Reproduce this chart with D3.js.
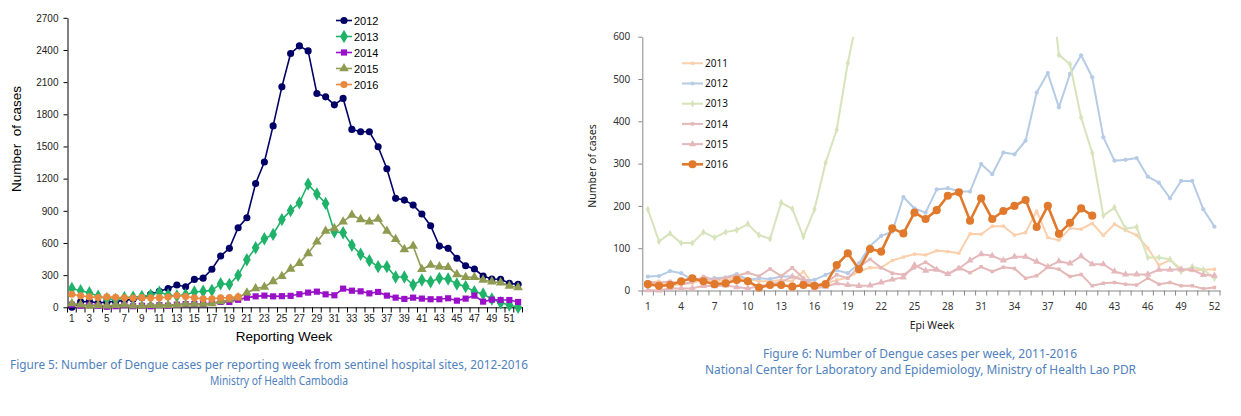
<!DOCTYPE html>
<html>
<head>
<meta charset="utf-8">
<script src="https://cdn.jsdelivr.net/npm/d3@7/dist/d3.min.js"></script>
<style>
  body { margin: 0; background: #fff; }
  svg { display: block; }
</style>
</head>
<body>
<svg id="chart" width="1241" height="416"></svg>
<script>
// ---- Figure 5: Cambodia, cases per reporting week ----
const khWeeks = d3.range(1, 53);
const khYears = ["2012", "2013", "2014", "2015", "2016"];
const kh2012 = [0,50,55,40,50,55,65,75,90,120,150,175,208,192,260,272,355,478,550,742,835,1155,1355,1692,2056,2367,2438,2391,1994,1963,1888,1948,1659,1637,1637,1497,1292,1016,1000,953,870,761,571,550,457,388,357,292,264,261,224,214];
const kh2013 = [175,155,136,103,80,72,90,95,100,112,140,115,105,118,143,150,158,220,214,298,444,556,640,680,818,902,974,1149,1056,969,705,696,578,494,435,379,379,283,283,208,255,239,270,264,217,193,146,124,78,43,22,0];
const kh2014 = [25,15,20,15,5,10,20,10,15,10,20,15,25,30,30,30,40,50,50,70,90,102,109,102,104,107,122,137,146,121,112,174,155,149,130,143,109,90,78,90,81,75,75,84,62,81,109,53,71,68,68,50];
const kh2015 = [35,25,15,20,15,20,25,15,15,20,20,20,25,30,30,30,35,55,70,90,135,175,190,242,290,358,412,503,612,711,736,798,860,820,798,823,711,634,540,571,354,394,379,373,307,280,280,255,239,230,199,186];
const kh2016 = [122,107,97,91,97,94,88,86,90,88,90,95,110,100,88,80,80,88,90,97];
const khTicks = [0,300,600,900,1200,1500,1800,2100,2400,2700];

// ---- Figure 6: Lao PDR, cases per epi week ----
const laWeeks = d3.range(1, 53);
const laYears = ["2011", "2012", "2013", "2014", "2015", "2016"];
const la2011 = [18,22,12,15,18,25,22,25,30,28,22,22,25,22,45,10,15,25,30,45,54,54,71,79,86,84,94,92,88,134,133,152,152,131,137,188,125,119,147,145,159,130,157,142,131,100,60,72,50,47,49,50];
const la2012 = [33,34,46,41,25,26,29,31,39,25,29,27,33,33,25,25,37,48,41,64,105,129,139,221,194,184,239,242,234,234,299,275,326,322,354,468,514,433,512,556,504,362,307,309,313,269,255,218,259,259,192,151];
const la2013 = [192,116,135,112,112,138,125,138,143,157,131,122,208,193,127,192,302,380,538,665,760,850,920,980,1040,1100,1150,1120,1080,1050,1000,1060,1100,1020,960,900,785,557,535,409,325,177,196,146,150,78,78,74,45,56,49,29];
const la2014 = [20,18,22,15,20,33,25,30,35,42,34,51,34,54,29,12,17,37,29,56,74,54,41,37,54,67,50,39,54,42,56,45,55,52,29,35,55,50,33,38,11,17,19,15,13,29,15,19,11,11,4,7];
const la2015 = [1,0,5,5,5,11,10,12,8,5,10,15,20,33,25,5,9,17,13,11,12,19,26,31,60,47,49,39,52,71,86,82,71,80,80,68,56,69,64,81,62,62,45,38,38,38,49,49,50,49,37,35];
const la2016 = [15,11,13,22,29,22,15,17,25,22,7,13,13,9,13,11,15,60,88,50,98,92,147,135,184,169,190,224,232,165,218,169,188,200,214,150,200,134,160,194,177];
const laTicks = [0,100,200,300,400,500,600];
const laLabelWeeks = [1,4,7,10,13,16,19,22,25,28,31,34,37,40,43,46,49,52];

const svg = d3.select("#chart");

// ================= left chart =================
const khSeries = [
  {name: "2012", values: kh2012, color: "#000066", sym: d3.symbolCircle, size: 40},
  {name: "2013", values: kh2013, color: "#1fb36a", sym: d3.symbolDiamond, size: 52},
  {name: "2014", values: kh2014, color: "#9910c8", sym: d3.symbolSquare, size: 38},
  {name: "2015", values: kh2015, color: "#8e9b50", sym: d3.symbolTriangle, size: 40},
  {name: "2016", values: kh2016, color: "#e8893f", sym: d3.symbolCircle, size: 40}
];

const xK = d3.scaleBand().domain(khWeeks).range([67.5, 522.5]);
const yK = d3.scaleLinear().domain([0, 2700]).range([307.3, 17.8]);
const cx = w => xK(w) + xK.bandwidth() / 2;

const gK = svg.append("g").attr("font-family", "Liberation Sans, Arial, sans-serif");

// y axis
const yAxisK = gK.append("g")
  .attr("transform", "translate(67.5,0)")
  .call(d3.axisLeft(yK).tickValues(khTicks).tickFormat(d3.format("d"))
    .tickSize(4).tickPadding(5).tickSizeOuter(0));
yAxisK.selectAll("text").attr("font-size", 10).attr("fill", "#222").attr("font-family", "Liberation Sans, Arial, sans-serif");
yAxisK.select(".domain").attr("stroke", "#000");

// x axis
const xAxisK = gK.append("g")
  .attr("transform", "translate(0,307.3)")
  .call(d3.axisBottom(xK).tickValues(khWeeks.filter(w => w % 2 === 1)).tickSize(0).tickPadding(7.5).tickSizeOuter(0));
xAxisK.selectAll("text").attr("font-size", 10).attr("fill", "#222").attr("font-family", "Liberation Sans, Arial, sans-serif");
xAxisK.select(".domain").attr("stroke", "#000");
gK.append("g").selectAll("line")
  .data(khWeeks.concat([null]))
  .enter().append("line")
  .attr("x1", d => d === null ? xK.range()[1] : xK(d))
  .attr("x2", d => d === null ? xK.range()[1] : xK(d))
  .attr("y1", 307.3).attr("y2", 312.5)
  .attr("stroke", "#000");

gK.append("text")
  .attr("transform", "translate(21,139) rotate(-90)")
  .attr("text-anchor", "middle")
  .attr("font-size", 13.5)
  .style("white-space", "pre")
  .text("Number  of cases");

gK.append("text")
  .attr("x", 284).attr("y", 341)
  .attr("text-anchor", "middle")
  .attr("font-size", 13.5)
  .text("Reporting Week");

const lineK = d3.line().x((d, i) => cx(khWeeks[i])).y(d => yK(d));

khSeries.forEach(s => {
  gK.append("path")
    .attr("d", lineK(s.values))
    .attr("fill", "none")
    .attr("stroke", s.color)
    .attr("stroke-width", 1.6);
  gK.append("g").selectAll("path")
    .data(s.values)
    .enter().append("path")
    .attr("transform", (d, i) => `translate(${cx(khWeeks[i])},${yK(d)})`)
    .attr("d", d3.symbol(s.sym, s.size))
    .attr("fill", s.color);
});

// legend
const legK = gK.append("g");
khSeries.forEach((s, i) => {
  const y = 20.5 + i * 16;
  legK.append("line").attr("x1", 336).attr("x2", 352).attr("y1", y).attr("y2", y)
    .attr("stroke", s.color).attr("stroke-width", 1.6);
  legK.append("path").attr("transform", `translate(344,${y})`)
    .attr("d", d3.symbol(s.sym, s.size)).attr("fill", s.color);
  legK.append("text").attr("x", 354).attr("y", y + 4)
    .attr("font-size", 11).text(s.name);
});

// ================= right chart =================
const laSeries = [
  {name: "2011", values: la2011, color: "#fbcfab", sym: d3.symbolSquare, size: 10, w: 2},
  {name: "2012", values: la2012, color: "#b6cbe5", sym: d3.symbolCircle, size: 14, w: 2},
  {name: "2013", values: la2013, color: "#d6e3bb", sym: d3.symbolDiamond, size: 16, w: 2},
  {name: "2014", values: la2014, color: "#e5b8b8", sym: d3.symbolSquare, size: 12, w: 2},
  {name: "2015", values: la2015, color: "#e5b8bc", sym: d3.symbolTriangle, size: 22, w: 2},
  {name: "2016", values: la2016, color: "#e0792c", sym: d3.symbolCircle, size: 52, w: 2.6}
];

const xL = d3.scaleBand().domain(laWeeks).range([642.3, 1220]);
const yL = d3.scaleLinear().domain([0, 600]).range([290.5, 36.7]);
const lx = w => xL(w) + xL.bandwidth() / 2;

const gL = svg.append("g").attr("font-family", "Noto Sans, Open Sans, sans-serif");

svg.append("defs").append("clipPath").attr("id", "clipL")
  .append("rect").attr("x", 636).attr("y", yL(600)).attr("width", 600).attr("height", 270);

const yAxisL = gL.append("g")
  .attr("transform", "translate(642.3,0)")
  .call(d3.axisLeft(yL).tickValues(laTicks).tickSize(4).tickPadding(8).tickSizeOuter(0));
yAxisL.selectAll("text").attr("font-size", 10).attr("fill", "#333").attr("font-family", "Noto Sans, Open Sans, sans-serif");
yAxisL.selectAll("line").attr("stroke", "#888");
yAxisL.select(".domain").attr("stroke", "#888");

const xAxisL = gL.append("g")
  .attr("transform", "translate(0,290.5)")
  .call(d3.axisBottom(xL).tickValues(laLabelWeeks).tickSize(0).tickPadding(12).tickSizeOuter(0));
xAxisL.selectAll("text").attr("font-size", 10).attr("fill", "#333").attr("font-family", "Noto Sans, Open Sans, sans-serif");
xAxisL.select(".domain").attr("stroke", "#888");
gL.append("g").selectAll("line")
  .data(laWeeks.concat([null]))
  .enter().append("line")
  .attr("x1", d => d === null ? xL.range()[1] : xL(d))
  .attr("x2", d => d === null ? xL.range()[1] : xL(d))
  .attr("y1", 290.5).attr("y2", 295.5)
  .attr("stroke", "#888");

gL.append("text")
  .attr("transform", "translate(596,166) rotate(-90)")
  .attr("text-anchor", "middle")
  .attr("font-size", 10.5).attr("fill", "#222")
  .text("Number of cases");

gL.append("text")
  .attr("x", 932).attr("y", 329)
  .attr("text-anchor", "middle")
  .attr("font-size", 10.5).attr("fill", "#222")
  .text("Epi Week");

const lineL = d3.line().x((d, i) => lx(laWeeks[i])).y(d => yL(d));
const plotL = gL.append("g").attr("clip-path", "url(#clipL)");

laSeries.forEach(s => {
  plotL.append("path")
    .attr("d", lineL(s.values))
    .attr("fill", "none")
    .attr("stroke", s.color)
    .attr("stroke-width", s.w)
    .attr("stroke-linejoin", "round");
  plotL.append("g").selectAll("path")
    .data(s.values)
    .enter().append("path")
    .attr("transform", (d, i) => `translate(${lx(laWeeks[i])},${yL(d)})`)
    .attr("d", d3.symbol(s.sym, s.size))
    .attr("fill", s.color);
});

const legL = gL.append("g");
laSeries.forEach((s, i) => {
  const y = 63.3 + i * 20.2;
  legL.append("line").attr("x1", 682).attr("x2", 703).attr("y1", y).attr("y2", y)
    .attr("stroke", s.color).attr("stroke-width", s.w);
  legL.append("path").attr("transform", `translate(692.5,${y})`)
    .attr("d", d3.symbol(s.sym, s.size)).attr("fill", s.color);
  legL.append("text").attr("x", 705).attr("y", y + 3.6)
    .attr("font-size", 10).attr("fill", "#111").text(s.name);
});

// ================= captions =================
const capColor = "#4f81bd";
const caps = [
  {t: "Figure 5: Number of Dengue cases per reporting week from sentinel hospital sites, 2012-2016", x: 269, y: 369, len: 518},
  {t: "Ministry of Health Cambodia", x: 279, y: 385, len: 138},
  {t: "Figure 6: Number of Dengue cases per week, 2011-2016", x: 920, y: 358, len: 314},
  {t: "National Center for Laboratory and Epidemiology, Ministry of Health Lao PDR", x: 920.5, y: 374, len: 431}
];
svg.append("g").selectAll("text")
  .data(caps)
  .enter().append("text")
  .attr("x", d => d.x).attr("y", d => d.y)
  .attr("text-anchor", "middle")
  .attr("font-family", "Noto Sans, Open Sans, sans-serif")
  .attr("font-size", 12)
  .attr("fill", capColor)
  .attr("textLength", d => d.len)
  .attr("lengthAdjust", "spacingAndGlyphs")
  .text(d => d.t);
</script>
</body>
</html>
